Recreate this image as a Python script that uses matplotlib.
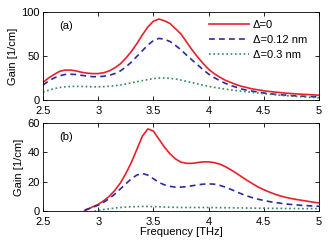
import numpy as np
import matplotlib
matplotlib.use("Agg")
import matplotlib.pyplot as plt

freq = np.round(np.arange(2.5, 5.0001, 0.05), 2)

# panel (a)
a_d0 = [20, 25, 29, 32.5, 34, 34, 33, 31.5, 30.5, 30, 30, 31, 33, 36.5, 41, 47.5, 55, 64, 74, 83,
        89.5, 92, 90, 87, 81, 75, 66, 57, 49, 41.5, 35, 30, 26, 22.5, 20, 17.5, 15.5, 14, 12.5, 11.5,
        10.5, 9.7, 9, 8.4, 7.8, 7.3, 6.9, 6.5, 6.2, 5.8, 5.5]
a_d012 = [17, 21.5, 25, 27.5, 29, 29.2, 29, 28, 27.2, 26.5, 26.5, 27, 28, 30, 33, 37.5, 43, 49.5, 56, 62.5,
          67.5, 70, 69, 66.5, 62, 57, 51, 45.5, 40, 34.5, 29.5, 25.5, 22, 19, 16.5, 14.5, 12.5, 11, 10, 9,
          8, 7.2, 6.5, 6, 5.5, 5, 4.6, 4.3, 4, 3.7, 3.5]
a_d03 = [9, 11, 13, 14.2, 15, 15.4, 15.5, 15.4, 15.2, 15, 15, 15.2, 15.6, 16.2, 17, 18.2, 19.5, 20.8, 22, 23.2,
         24.3, 25, 25, 24.6, 23.8, 22.6, 21.2, 19.8, 18.3, 16.8, 15.5, 14.4, 13.4, 12.4, 11.5, 10.7, 10, 9.3, 8.6, 7.9,
         7.2, 6.6, 6, 5.4, 4.9, 4.4, 4, 3.6, 3.2, 2.9, 2.6]

# panel (b)
b_d0 = [-25, -21, -17, -13, -9.5, -6.5, -4, -1.2, 1, 2.8, 4.5, 7, 10, 14, 19, 25.5, 33, 42, 51, 56,
        54.5, 49, 43.5, 39, 35.5, 33.3, 32.5, 32.5, 33, 33.5, 33.5, 33, 32, 30.3, 28.2, 25.8, 23.3, 20.8, 18.5, 16.3,
        14.5, 12.9, 11.5, 10.3, 9.3, 8.5, 7.8, 7.2, 6.6, 6, 5.5]
b_d012 = [-18, -15, -12, -9, -6.5, -4, -2, 0, 1.2, 2.5, 4, 6, 8.5, 11.5, 15, 18.5, 22, 24.5, 25.5, 24.5,
          22, 19.5, 17.8, 16.8, 16.3, 16.3, 16.6, 17.2, 17.8, 18.3, 18.5, 18.3, 17.5, 16.3, 14.8, 13.2, 11.6, 10.2, 9, 8,
          7.2, 6.4, 5.8, 5.3, 4.8, 4.4, 4.1, 3.8, 3.6, 3.4, 3.2]
b_d03 = [-5, -4.5, -4, -3.5, -3, -2.5, -2, -1.5, -1, -0.4, 0.4, 1, 1.5, 2, 2.4, 2.7, 2.9, 3, 3.1, 3.1,
         3, 2.9, 2.7, 2.6, 2.5, 2.4, 2.4, 2.4, 2.4, 2.4, 2.4, 2.3, 2.3, 2.2, 2.2, 2.1, 2.1, 2, 2, 1.9,
         1.9, 1.8, 1.8, 1.8, 1.7, 1.7, 1.7, 1.6, 1.6, 1.6, 1.6]

labels = ["\u0394=0", "\u0394=0.12 nm", "\u0394=0.3 nm"]
xticks = [2.5, 3, 3.5, 4, 4.5, 5]

red = "#e8202a"
blue = "#2b2b9c"
green = "#2f8a5a"

plt.rcParams['font.family'] = ['Liberation Sans', 'DejaVu Sans']
plt.rcParams['font.size'] = 8

fig = plt.figure(figsize=(3.28, 2.41), dpi=100)
ax1 = fig.add_axes([43/328, 1 - 100/241, 276/328, 88/241])
ax2 = fig.add_axes([43/328, 1 - 211/241, 276/328, 88/241])

for ax, ys, ylim, yt, tag in [(ax1, (a_d0, a_d012, a_d03), 100, [0, 50, 100], "(a)"),
                              (ax2, (b_d0, b_d012, b_d03), 60, [0, 20, 40, 60], "(b)")]:
    ax.plot(freq, ys[0], color=red, lw=1.2, ls='-', label=labels[0])
    ax.plot(freq, ys[1], color=blue, lw=1.2, ls=(0, (3.5, 2.5)), label=labels[1])
    ax.plot(freq, ys[2], color=green, lw=1.2, ls=(0, (1, 1.6)), label=labels[2])
    ax.set_xlim(2.5, 5)
    ax.set_ylim(0, ylim)
    ax.set_xticks(xticks)
    ax.set_xticklabels(["2.5", "3", "3.5", "4", "4.5", "5"])
    ax.set_yticks(yt)
    ax.tick_params(direction='in', top=True, right=True, length=3, width=0.6)
    ax.tick_params(axis='x', pad=4)
    ax.tick_params(axis='y', pad=2.5)
    for s in ax.spines.values():
        s.set_linewidth(0.6)
    ax.set_ylabel("Gain [1/cm]", labelpad=2)
    ax.text(0.06, 0.9, tag, transform=ax.transAxes, ha='left', va='top')

ax1.legend(loc='upper right', frameon=False, handlelength=3.6, handletextpad=0.3,
           labelspacing=0.45, borderaxespad=0.3, bbox_to_anchor=(0.985, 1.0))
ax2.set_xlabel("Frequency [THz]", labelpad=0)

fig.savefig("out.png", dpi=100)
